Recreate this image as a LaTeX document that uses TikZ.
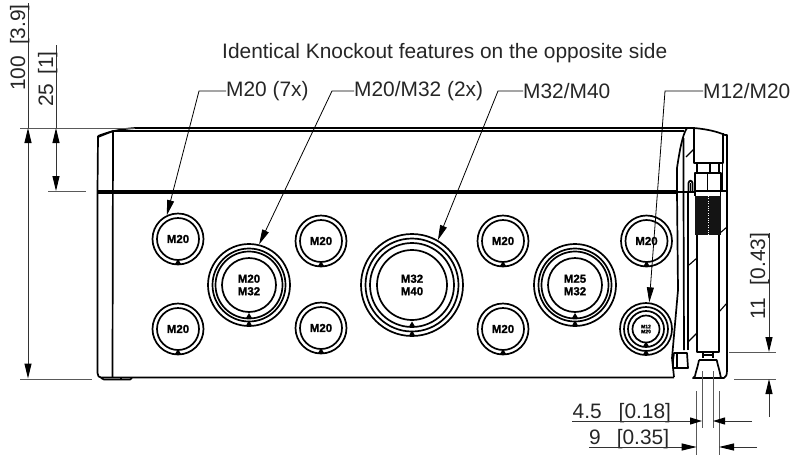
\documentclass[tikz,border=0pt]{standalone}
\usepackage{fontspec}
\setmainfont{Liberation Sans}
\newfontfamily\knf[FakeBold=1.2]{Liberation Sans Bold}
\usetikzlibrary{arrows.meta}
\tikzset{
  x=1pt,y=-1pt,
  body/.style={line width=1.7pt,black,line join=round},
  thin body/.style={line width=1.1pt,black},
  dimline/.style={line width=1pt,black!80},
  dimend/.style={dimline,-{Triangle[length=15pt,width=7pt,black]}},
  dimshort/.style={dimline,-{Triangle[length=12pt,width=7pt,black]}},
  dimarrow/.style={dimline,{Triangle[length=15pt,width=7pt,black]}-{Triangle[length=15pt,width=7pt,black]}},
  ext/.style={line width=1pt,black!65},
  leader/.style={line width=0.8pt,black,-{Triangle[length=15pt,width=7pt,black]}},
  lbl/.style={inner sep=0pt,font=\fontsize{20.9}{23}\selectfont,text=black!85},
  ring/.style={circle,draw=black,line width=1.7pt,inner sep=0pt},
  kn/.style={font=\fontsize{11.5}{12}\knf,align=center,inner sep=0pt},
  kntip/.style={fill=black,draw=none},
}
\newcommand{\tipmark}[3]{\fill[kntip] (#1-3,#2+#3-0.5) -- (#1+3,#2+#3-0.5) -- (#1,#2+#3-5.5) -- cycle;}
\begin{document}
\begin{tikzpicture}
\useasboundingbox (0,0) rectangle (790,461);

% --- enclosure body
\draw[body] (98,136) .. controls (108,132) and (120,129) .. (135,128) -- (687,128);
\draw[body] (98,137) .. controls (103,135) and (108,133) .. (113,131) -- (684,131);
\draw[body] (98,136) -- (97.5,191) -- (97.5,373) .. controls (97.5,376) and (99,377.5) .. (101,377.5) -- (674,377.5);
\draw[body] (113,131) -- (112.5,377.5);
\draw[body] (98,191) -- (677,191);
\draw[body] (98,193.2) -- (677,193.2);
\draw[body] (101,378) -- (104,379.5) -- (130,379.5) -- (132,378);
\draw[thin body] (121,378) -- (121,379.5);

% --- right side: lid edge and strap
\draw[body] (687,128) .. controls (682,135) and (679,155) .. (677,168) -- (677,192) -- (678,290) -- (672,358) -- (674,377);
\draw[body] (683.5,138) -- (683.5,192) -- (684,350);
\draw[body] (688,192) -- (688,350);
\draw[body] (687,128) -- (694,128);
\draw[thin body] (677,192) -- (694,192);
% small clip
\draw[body] (688.5,191) -- (688.5,183) .. controls (689,180) and (692,180) .. (692.5,183) -- (692.5,191);
\draw[thin body] (690.5,183) -- (690.5,191);
% lower stub
\draw[body] (673,360) -- (674,353) -- (687,353) -- (688,368) -- (673,368) -- (673,360);
\draw[thin body] (677,353) -- (677,368);

% --- cable gland
\draw[body] (694,128) .. controls (705,129) and (716,131) .. (725,135) -- (727,135) -- (727,370) .. controls (727,375) and (726,377) .. (724,378) -- (720.7,378);
\draw[thin body] (722.7,133) -- (722.7,191);
\draw[body] (694,128) -- (694,163) -- (722.7,163) -- (722.7,133);
\draw[body] (697,163) -- (697,173) (719,163) -- (719,173);
\draw[thin body] (710,163) -- (710,173);
\draw[body] (695,173) rectangle (720.7,191);
\draw[thin body] (707.7,173) -- (707.7,191);
\draw[thin body] (695,191) -- (727,191);
\fill[black!92] (695,196) rectangle (720.7,235);
\draw[thin body] (695,191) -- (695,196) (720.7,191) -- (720.7,196);
\draw[white,line width=0.4pt,dotted] (707.7,196) -- (707.7,235);
\draw[body] (697,235) -- (697,352) -- (719,352) -- (719,235);
\draw[body] (703,352) -- (703,358) (712.7,352) -- (712.7,358);
\draw[thin body] (703,355) -- (712.7,355);
\draw[body] (699,360) -- (716.7,360) .. controls (718,366) and (720,372) .. (720.7,377) -- (722,378) -- (693,378) -- (695,376) .. controls (696,371) and (698,366) .. (699,360);
\draw[thin body] (694,377.5) -- (720,377.5);

% slanted break marks
\draw[thin body] (686,157) -- (694,149);
\draw[thin body] (689,265) -- (697,258);
\draw[thin body] (720,233) -- (727,227);
\draw[thin body] (688,342) -- (697,333);
\draw[thin body] (719,312) -- (727,303);

% --- M20 knockouts
\foreach \nm/\cx/\cy in {a/178/239,b/321/241,c/503/241,d/646.5/241,e/178/329,f/321/328,g/503/329}{
  \node[ring,minimum size=51pt] (k\nm) at (\cx,\cy) {};
  \node[ring,minimum size=42pt] (i\nm) at (\cx,\cy) {};
  \node[kn] (t\nm) at (\cx,\cy) {M20};
  \tipmark{\cx}{\cy}{25.5}
}
% --- M20/M32
\foreach \nm/\cx/\txt in {h/249/{M20\\[0.5pt]M32},j/575/{M25\\[0.5pt]M32}}{
  \node[ring,minimum size=82pt] (k\nm) at (\cx,285) {};
  \node[ring,minimum size=73pt] at (\cx,285) {};
  \node[ring,minimum size=67pt] at (\cx,285) {};
  \node[ring,minimum size=54pt] at (\cx,285) {};
  \node[kn] (t\nm) at (\cx,285) {\txt};
  \tipmark{\cx}{285}{41}
  \tipmark{\cx}{285}{33.5}
}
% --- M32/M40
\node[ring,minimum size=102pt] (km) at (412,285) {};
\node[ring,minimum size=93pt] at (412,285) {};
\node[ring,minimum size=84pt] at (412,285) {};
\node[ring,minimum size=70pt] at (412,285) {};
\node[kn] (tm) at (412,285) {M32\\[0.5pt]M40};
\tipmark{412}{285}{51}
\tipmark{412}{285}{42}
% --- M12/M20
\node[ring,minimum size=52pt] (kn) at (646,329) {};
\node[ring,minimum size=44pt] at (646,329) {};
\node[ring,minimum size=36pt] at (646,329) {};
\node[ring,minimum size=27pt] at (646,329) {};
\node[kn,font=\fontsize{5}{5.5}\knf] (tn) at (646,329) {M12\\[-0.5pt]M20};
\tipmark{646}{329}{26}
\tipmark{646}{329}{18}

% --- labels
\node[lbl,anchor=west] (title) at (222,53) {Identical Knockout features on the opposite side};
\node[lbl,anchor=west] (l1) at (226,91) {M20 (7x)};
\node[lbl,anchor=west] (l2) at (354,91) {M20/M32 (2x)};
\node[lbl,anchor=west] (l3) at (523,91) {M32/M40};
\node[lbl,anchor=west] (l4) at (703,91) {M12/M20};
\draw[leader] (l1.west) -- ++(-27,0) coordinate (e1) -- (ka.115);
\draw[leader] (l2.west) -- ++(-22,0) coordinate (e2) -- (kh.76);
\draw[leader] (l3.west) -- ++(-25,0) coordinate (e3) -- (km.60);
\draw[leader] (l4.west) -- ++(-38,0) coordinate (e4) -- (kn.83);

% --- dimensions, left
\coordinate (top) at (28,128); \coordinate (bot) at (28,378.5);
\coordinate (ltop) at (56,128); \coordinate (lbot) at (56,191);
\draw[ext] (20,128) -- (135,128);
\draw[ext] (20,379) -- (92,379);
\draw[ext] (48,191) -- (86,191);
\draw[dimarrow] (top) -- (bot);
\draw[dimline] (top) -- (28,3);
\draw[dimarrow] (ltop) -- (lbot);
\draw[dimline] (ltop) -- (56,45);
\node[lbl,rotate=90,anchor=base west] (d100) at (25,91) {100\hspace{11pt}[3.9]};
\node[lbl,rotate=90,anchor=base west] (d25) at (53,107) {25\hspace{9pt}[1]};

% --- dimension, right
\coordinate (r1) at (769,352); \coordinate (r2) at (769,379);
\draw[ext] (729,352) -- (776,352);
\draw[ext] (734,379.5) -- (776,379.5);
\draw[dimend] (769,233) -- (r1);
\draw[dimend] (769,417) -- (r2);
\node[lbl,rotate=90,anchor=base west] (d11) at (765,320) {11\hspace{13pt}[0.43]};

% --- dimensions, bottom
\draw[ext] (702,371) -- (702,428);
\draw[ext] (713,371) -- (713,428);
\draw[ext] (696.7,391) -- (696.7,455);
\draw[ext] (719,391) -- (719,455);
\node[lbl,anchor=base west] (d45) at (572.5,418) {4.5\hspace{17pt}[0.18]};
\node[lbl,anchor=base west] (d9) at (589,444) {9\hspace{16pt}[0.35]};
\coordinate (b1) at (702,421); \coordinate (b2) at (713,421);
\coordinate (c1) at (696.7,447); \coordinate (c2) at (719,447);
\draw[dimshort] (572,421) -- (b1);
\draw[dimshort] (752,421) -- (b2);
\draw[dimend] (589,447) -- (c1);
\draw[dimend] (757,447) -- (c2);
\end{tikzpicture}
\end{document}
